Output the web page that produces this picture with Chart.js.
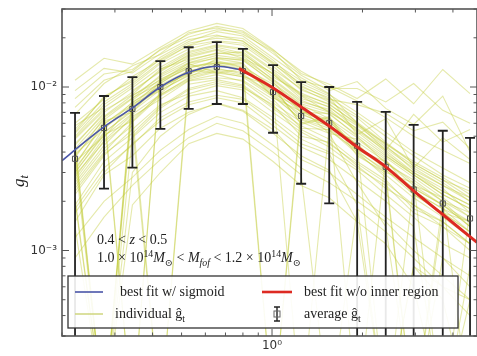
<!DOCTYPE html>
<html>
<head>
<meta charset="utf-8">
<script src="https://cdn.jsdelivr.net/npm/chart.js@4.4.0/dist/chart.umd.min.js"></script>
<style>
  html, body { margin: 0; padding: 0; background: #fff; }
  #wrap { width: 477px; height: 356px; }
</style>
</head>
<body>
<div id="wrap"><canvas id="gtChart"></canvas></div>
<script>
// radius bins (x) and the stacked average g_t with its error bar ends (units of 1e-3)
const binR = [0.221, 0.276, 0.343, 0.425, 0.528, 0.655, 0.800, 1.008, 1.25, 1.55, 1.92, 2.39, 2.96, 3.70, 4.56];
const avgG = [3.64, 5.62, 7.34, 10.0, 12.5, 13.25, 12.5, 9.32, 6.65, 6.03, 4.37, 3.25, 2.36, 1.94, 1.57];
const avgHi = [6.94, 8.81, 11.5, 14.4, 17.5, 18.8, 17.1, 13.6, 10.7, 10.0, 8.1, 7.05, 5.86, 5.4, 4.89];
const avgLo = [0.1, 2.39, 3.21, 5.55, 7.34, 7.87, 7.87, 5.25, 2.56, 1.94, 0.1, 0.1, 0.1, 0.1, 0.1];

// best fit w/ sigmoid
const sigmoidR = [0.2, 0.221, 0.276, 0.343, 0.425, 0.528, 0.655, 0.80];
const sigmoidG = [3.54, 4.13, 5.7, 7.45, 10.0, 12.3, 13.4, 12.7];

// best fit w/o inner region
const outerR = [0.776, 1.008, 1.25, 1.55, 1.92, 2.39, 2.98, 3.70, 4.81];
const outerG = [13.0, 9.86, 7.55, 5.78, 4.30, 3.25, 2.29, 1.66, 1.12];

// individual g_t profiles, one row per cluster (units of 1e-3)
const individualG = [
  [5.2, 8.1, 10.5, 14.2, 18.0, 20.5, 19.8, 14.6, 10.2, 8.4, 7.8, 6.9, 5.4, 6.1, 4.2],
  [2.4, 4.0, 6.1, 8.8, 11.0, 11.9, 10.8, 8.0, 6.1, 5.2, 2.6, 1.4, 0.1, 0.9, 0.6],
  [4.1, 0.1, 8.8, 11.5, 14.1, 15.6, 14.9, 11.2, 8.3, 7.1, 5.4, 4.1, 3.0, 2.4, 1.7],
  [3.0, 5.1, 6.2, 9.1, 12.8, 12.1, 13.0, 9.9, 6.0, 6.6, 4.0, 2.8, 0.1, 2.0, 1.4],
  [9.5, 13.0, 12.2, 16.0, 21.5, 23.0, 21.0, 16.5, 11.0, 9.8, 9.8, 8.1, 10.5, 7.2, 6.0],
  [1.8, 3.2, 4.4, 6.5, 8.1, 8.9, 8.4, 6.2, 4.5, 3.9, 1.9, 0.1, 0.8, 0.5, 0.1],
  [4.5, 6.8, 0.1, 12.0, 15.2, 16.8, 15.0, 12.2, 8.9, 7.5, 5.8, 4.3, 3.3, 2.6, 2.0],
  [2.8, 4.9, 7.9, 9.5, 11.9, 14.2, 13.1, 9.1, 7.4, 5.2, 4.8, 3.6, 2.2, 1.7, 1.5],
  [3.3, 6.2, 7.0, 10.8, 13.9, 12.2, 11.6, 10.1, 5.9, 6.5, 3.8, 3.0, 2.6, 0.1, 1.8],
  [5.8, 7.5, 9.9, 13.2, 16.5, 18.1, 17.2, 12.8, 9.8, 8.1, 6.5, 4.6, 3.4, 2.7, 2.3],
  [2.1, 0.1, 5.0, 7.4, 9.6, 10.5, 9.9, 7.8, 5.0, 4.6, 3.3, 2.4, 1.9, 1.5, 1.1],
  [3.9, 5.5, 8.1, 10.1, 12.0, 14.9, 14.0, 8.6, 7.1, 6.2, 4.1, 3.5, 2.5, 2.1, 1.6],
  [11.0, 15.0, 13.8, 17.5, 22.0, 24.5, 22.8, 17.0, 12.1, 10.4, 8.5, 11.2, 7.9, 12.8, 9.1],
  [1.5, 2.9, 3.8, 5.6, 7.0, 7.9, 7.1, 5.2, 3.8, 3.1, 1.5, 1.1, 0.6, 0.1, 0.5],
  [3.5, 5.0, 6.9, 0.1, 11.5, 13.8, 12.9, 9.5, 6.5, 5.8, 4.5, 3.1, 2.3, 1.8, 1.3],
  [4.8, 7.2, 9.0, 12.9, 14.8, 16.0, 16.4, 11.9, 8.8, 7.0, 5.6, 4.0, 2.9, 2.3, 1.9],
  [2.6, 4.4, 6.6, 8.4, 10.9, 11.4, 11.0, 8.4, 5.6, 5.5, 3.9, 2.9, 2.1, 1.6, 1.2],
  [3.8, 6.0, 7.7, 10.9, 13.0, 14.5, 13.2, 10.4, 7.8, 6.4, 4.9, 3.7, 2.8, 2.1, 0.1],
  [5.5, 8.6, 11.1, 15.2, 19.0, 21.8, 20.5, 15.1, 11.4, 9.1, 6.0, 4.1, 6.8, 4.6, 5.5],
  [2.2, 3.8, 5.5, 7.8, 9.1, 10.2, 9.6, 7.0, 5.3, 4.3, 3.2, 2.5, 1.7, 1.4, 1.0],
  [4.3, 0.1, 8.3, 11.2, 13.4, 14.1, 13.9, 0.1, 7.6, 6.8, 5.1, 3.8, 2.9, 2.2, 1.8],
  [3.1, 5.6, 7.5, 9.8, 12.3, 13.0, 12.0, 9.0, 6.8, 5.9, 4.2, 3.2, 2.3, 1.8, 1.5],
  [6.0, 8.4, 11.6, 14.6, 17.9, 19.2, 18.5, 13.8, 10.5, 8.8, 5.1, 6.4, 3.2, 4.9, 3.6],
  [1.9, 3.5, 4.9, 7.0, 8.8, 9.5, 8.6, 6.5, 4.8, 4.0, 3.1, 2.2, 1.6, 1.1, 0.9],
  [3.7, 6.5, 8.6, 10.5, 13.6, 15.2, 14.5, 10.8, 7.0, 6.9, 5.0, 3.4, 2.7, 2.0, 1.7],
  [4.6, 0.1, 9.5, 12.4, 15.8, 17.5, 16.1, 11.5, 9.2, 7.8, 6.0, 4.4, 3.1, 2.5, 2.1],
  [2.9, 4.6, 6.4, 8.9, 11.4, 12.6, 11.8, 8.9, 6.3, 5.4, 4.1, 3.0, 0.1, 1.7, 1.3],
  [5.0, 7.8, 10.2, 13.9, 17.1, 18.9, 18.0, 13.4, 9.6, 8.3, 6.1, 4.5, 3.5, 2.8, 2.2],
  [3.2, 5.3, 7.1, 9.6, 11.7, 12.8, 12.3, 0.1, 6.9, 5.7, 4.3, 3.3, 2.4, 1.9, 1.4],
  [4.0, 6.3, 8.5, 11.8, 14.5, 16.2, 15.5, 11.0, 8.1, 7.3, 5.3, 3.9, 3.0, 2.3, 1.9],
  [2.5, 4.2, 5.8, 0.1, 10.4, 11.1, 10.3, 7.6, 5.8, 4.8, 3.5, 2.7, 1.8, 1.5, 1.1],
  [8.5, 12.0, 12.8, 16.8, 20.2, 22.4, 21.6, 16.0, 11.8, 9.5, 10.8, 7.4, 5.9, 8.8, 4.0],
  [3.4, 5.9, 8.0, 10.6, 13.2, 14.0, 13.6, 10.0, 7.2, 6.3, 4.6, 3.5, 2.6, 2.0, 1.6],
  [4.4, 7.0, 9.3, 12.6, 15.5, 17.0, 15.8, 12.0, 8.5, 7.6, 5.5, 4.2, 3.2, 2.5, 2.0],
  [2.7, 4.7, 6.8, 9.0, 11.2, 12.4, 11.5, 8.7, 6.4, 5.6, 4.0, 3.1, 2.2, 1.7, 1.3],
  [6.8, 10.5, 13.5, 15.8, 19.5, 20.8, 19.0, 14.2, 10.9, 9.0, 7.0, 5.3, 4.0, 3.2, 2.6],
  [3.6, 0.1, 7.6, 10.3, 12.6, 13.5, 12.8, 9.7, 7.0, 6.1, 4.4, 0.1, 2.5, 1.9, 1.5],
  [5.3, 8.8, 10.8, 14.8, 18.5, 19.9, 19.2, 14.0, 10.0, 8.6, 6.7, 5.0, 3.8, 2.9, 2.4],
  [2.3, 3.9, 5.2, 7.6, 9.8, 10.8, 10.1, 7.4, 5.5, 4.5, 3.4, 2.6, 1.9, 1.4, 1.1],
  [4.9, 7.4, 0.1, 12.8, 16.2, 17.8, 16.9, 12.5, 9.0, 7.9, 5.9, 4.5, 3.4, 2.7, 2.1],
  [3.0, 5.2, 7.3, 9.9, 12.2, 13.7, 12.6, 9.4, 0.1, 5.8, 4.4, 3.2, 2.4, 1.9, 1.4],
  [7.5, 11.0, 12.5, 17.0, 21.0, 23.5, 22.0, 16.8, 12.5, 10.0, 8.2, 6.5, 5.0, 4.1, 3.4],
  [4.2, 6.6, 8.9, 11.0, 14.0, 15.0, 14.7, 10.6, 7.9, 7.0, 0.1, 3.8, 2.9, 2.2, 1.8],
  [1.7, 3.0, 4.5, 6.2, 7.8, 8.6, 8.0, 5.8, 4.3, 3.6, 2.7, 2.0, 1.4, 0.1, 0.8],
  [1.2, 2.0, 2.8, 4.1, 5.5, 6.6, 6.0, 4.4, 3.2, 2.6, 2.0, 1.5, 1.0, 0.7, 0.5],
  [0.9, 1.6, 2.5, 3.6, 4.9, 6.0, 5.4, 4.0, 2.9, 0.1, 1.8, 1.3, 0.9, 0.6, 0.4],
  [2.0, 0.1, 3.0, 5.0, 6.8, 8.0, 7.2, 5.5, 3.6, 3.0, 2.2, 1.6, 1.2, 0.9, 0.7],
  [1.4, 0.1, 1.9, 3.0, 4.5, 5.2, 4.8, 3.5, 2.5, 2.1, 1.5, 0.1, 0.8, 0.6, 0.5]
];

const xTickValues = [1];
const xTickLabels = ['10\u2070'];
const yTickValues = [1e-3, 1e-2];
const yTickLabels = ['10\u207B\u00B3', '10\u207B\u00B2'];

const UNIT = 1e-3;
const SERIF = '"Liberation Serif", "DejaVu Serif", serif';

function pts(xs, ys) {
  return xs.map((x, i) => ({ x: x, y: ys[i] * UNIT }));
}

function tickLabel(values, labels) {
  return function(v) {
    const k = values.findIndex(t => Math.abs(v / t - 1) < 1e-6);
    return k >= 0 ? labels[k] : '';
  };
}

// draw a run of text pieces: r = roman, i = italic, sup / sub / subi = raised or lowered
function rich(ctx, x, y, parts, size) {
  for (const [t, st] of parts) {
    let fs = size, dy = 0;
    if (st === 'sup') { fs = size * 0.7; dy = -size * 0.38; }
    if (st === 'sub' || st === 'subi') { fs = size * 0.7; dy = size * 0.25; }
    const it = (st === 'i' || st === 'subi') ? 'italic ' : '';
    ctx.font = it + fs + 'px ' + SERIF;
    ctx.fillText(t, x, y + dy);
    x += ctx.measureText(t).width;
  }
  return x;
}

const datasets = [
  {
    label: 'best fit w/o inner region',
    data: pts(outerR, outerG),
    borderColor: '#dd2a22', borderWidth: 3, pointRadius: 0,
    cubicInterpolationMode: 'monotone'
  },
  {
    label: 'best fit w/ sigmoid',
    data: pts(sigmoidR, sigmoidG),
    borderColor: '#4a55a8', borderWidth: 1.6, pointRadius: 0,
    cubicInterpolationMode: 'monotone'
  },
  {
    label: 'average',
    data: pts(binR, avgG),
    showLine: false,
    pointStyle: 'rect', pointRadius: 3.6,
    borderColor: '#555', borderWidth: 1, backgroundColor: 'rgba(0,0,0,0)'
  }
];
individualG.forEach((row, k) => {
  datasets.push({
    label: 'individual ' + k,
    data: pts(binR, row),
    borderColor: 'rgba(192,202,55,0.42)', borderWidth: 1.1, pointRadius: 0
  });
});
const AVG_INDEX = 2;

const errorBars = {
  id: 'errorBars',
  beforeDatasetDraw(chart, args) {
    if (args.index !== AVG_INDEX) return;
    const { ctx, chartArea: a, scales: { x, y } } = chart;
    ctx.save();
    ctx.beginPath();
    ctx.rect(a.left, a.top, a.right - a.left, a.bottom - a.top);
    ctx.clip();
    ctx.strokeStyle = '#222';
    ctx.lineWidth = 1.8;
    binR.forEach((r, i) => {
      const px = x.getPixelForValue(r);
      const hi = y.getPixelForValue(avgHi[i] * UNIT);
      const lo = y.getPixelForValue(avgLo[i] * UNIT);
      ctx.beginPath();
      ctx.moveTo(px, hi); ctx.lineTo(px, lo);
      ctx.moveTo(px - 5, hi); ctx.lineTo(px + 5, hi);
      ctx.moveTo(px - 5, lo); ctx.lineTo(px + 5, lo);
      ctx.stroke();
    });
    ctx.restore();
  }
};

const frame = {
  id: 'frame',
  afterDraw(chart) {
    const { ctx, chartArea: a, scales: { x, y } } = chart;
    ctx.save();
    // inward ticks
    ctx.strokeStyle = '#555';
    ctx.lineWidth = 1;
    const isMajor = v => Math.abs(Math.log10(v) - Math.round(Math.log10(v))) < 1e-6;
    const isTick = v => { const m = v / Math.pow(10, Math.floor(Math.log10(v) + 1e-9)); return Math.abs(m - Math.round(m)) < 1e-6; };
    ctx.beginPath();
    x.ticks.forEach(t => {
      if (!isTick(t.value)) return;
      const px = x.getPixelForValue(t.value), len = isMajor(t.value) ? 7 : 3.5;
      ctx.moveTo(px, a.bottom); ctx.lineTo(px, a.bottom - len);
      ctx.moveTo(px, a.top); ctx.lineTo(px, a.top + len);
    });
    y.ticks.forEach(t => {
      if (!isTick(t.value)) return;
      const py = y.getPixelForValue(t.value), len = isMajor(t.value) ? 7 : 3.5;
      ctx.moveTo(a.left, py); ctx.lineTo(a.left + len, py);
      ctx.moveTo(a.right, py); ctx.lineTo(a.right - len, py);
    });
    ctx.stroke();
    ctx.lineWidth = 1.6;
    ctx.strokeRect(a.left, a.top, a.right - a.left, a.bottom - a.top);

    // y axis title g_t
    ctx.fillStyle = '#222';
    ctx.save();
    ctx.translate(24, 180);
    ctx.rotate(-Math.PI / 2);
    ctx.textBaseline = 'alphabetic';
    rich(ctx, -7, 0, [['g', 'i'], ['t', 'subi']], 17);
    ctx.restore();

    // sample annotation
    ctx.textBaseline = 'alphabetic';
    rich(ctx, 97, 244, [['0.4 < ', 'r'], ['z', 'i'], [' < 0.5', 'r']], 14);
    rich(ctx, 97, 262, [
      ['1.0 \u00D7 10', 'r'], ['14', 'sup'], ['M', 'i'], ['\u2299', 'sub'],
      [' < ', 'r'], ['M', 'i'], ['fof', 'subi'],
      [' < 1.2 \u00D7 10', 'r'], ['14', 'sup'], ['M', 'i'], ['\u2299', 'sub']
    ], 14);

    // legend
    ctx.fillStyle = 'rgba(255,255,255,0.9)';
    ctx.fillRect(68, 276, 390, 52);
    ctx.strokeStyle = '#333';
    ctx.lineWidth = 1.3;
    ctx.strokeRect(68, 276, 390, 52);
    ctx.lineWidth = 1.6;
    ctx.strokeStyle = datasets[1].borderColor;
    ctx.beginPath(); ctx.moveTo(75, 292); ctx.lineTo(103, 292); ctx.stroke();
    ctx.lineWidth = 2.6;
    ctx.strokeStyle = datasets[0].borderColor;
    ctx.beginPath(); ctx.moveTo(262, 292); ctx.lineTo(292, 292); ctx.stroke();
    ctx.lineWidth = 1.6;
    ctx.strokeStyle = 'rgba(205,212,120,0.9)';
    ctx.beginPath(); ctx.moveTo(75, 314); ctx.lineTo(103, 314); ctx.stroke();
    ctx.strokeStyle = '#222';
    ctx.lineWidth = 1.4;
    ctx.beginPath();
    ctx.moveTo(277, 307); ctx.lineTo(277, 321);
    ctx.moveTo(274, 307); ctx.lineTo(280, 307);
    ctx.moveTo(274, 321); ctx.lineTo(280, 321);
    ctx.stroke();
    ctx.lineWidth = 1;
    ctx.strokeStyle = '#666';
    ctx.strokeRect(274, 311, 6, 6);
    ctx.fillStyle = '#222';
    rich(ctx, 120, 296, [['best fit w/ sigmoid', 'r']], 14);
    rich(ctx, 304, 296, [['best fit w/o inner region', 'r']], 14);
    rich(ctx, 115, 318, [['individual \u011D', 'r'], ['t', 'sub']], 14);
    rich(ctx, 304, 318, [['average \u011D', 'r'], ['t', 'sub']], 14);
    ctx.restore();
  }
};

window.onload = function() {
  const ctx = document.getElementById('gtChart').getContext('2d');
  new Chart(ctx, {
    type: 'line',
    data: { datasets: datasets },
    options: {
      responsive: true,
      maintainAspectRatio: false,
      animation: false,
      events: [],
      layout: { autoPadding: false, padding: { top: 9, right: 0, left: 0, bottom: 0 } },
      plugins: { legend: { display: false }, tooltip: { enabled: false } },
      scales: {
        x: {
          type: 'logarithmic', min: 0.2, max: 4.81,
          grid: { display: false, drawTicks: false },
          border: { display: false },
          ticks: {
            autoSkip: false, maxRotation: 0, padding: 3,
            color: '#333', font: { family: '"DejaVu Sans", sans-serif', size: 12 },
            callback: tickLabel(xTickValues, xTickLabels)
          },
          afterFit: s => { s.height = 20; s.paddingLeft = 0; s.paddingRight = 0; }
        },
        y: {
          type: 'logarithmic', min: 3e-4, max: 3e-2,
          grid: { display: false, drawTicks: false },
          border: { display: false },
          ticks: {
            autoSkip: false, padding: 5,
            color: '#333', font: { family: '"DejaVu Sans", sans-serif', size: 12 },
            callback: tickLabel(yTickValues, yTickLabels)
          },
          afterFit: s => { s.width = 62; s.paddingTop = 0; s.paddingBottom = 0; }
        }
      }
    },
    plugins: [errorBars, frame]
  });
};
</script>
</body>
</html>
